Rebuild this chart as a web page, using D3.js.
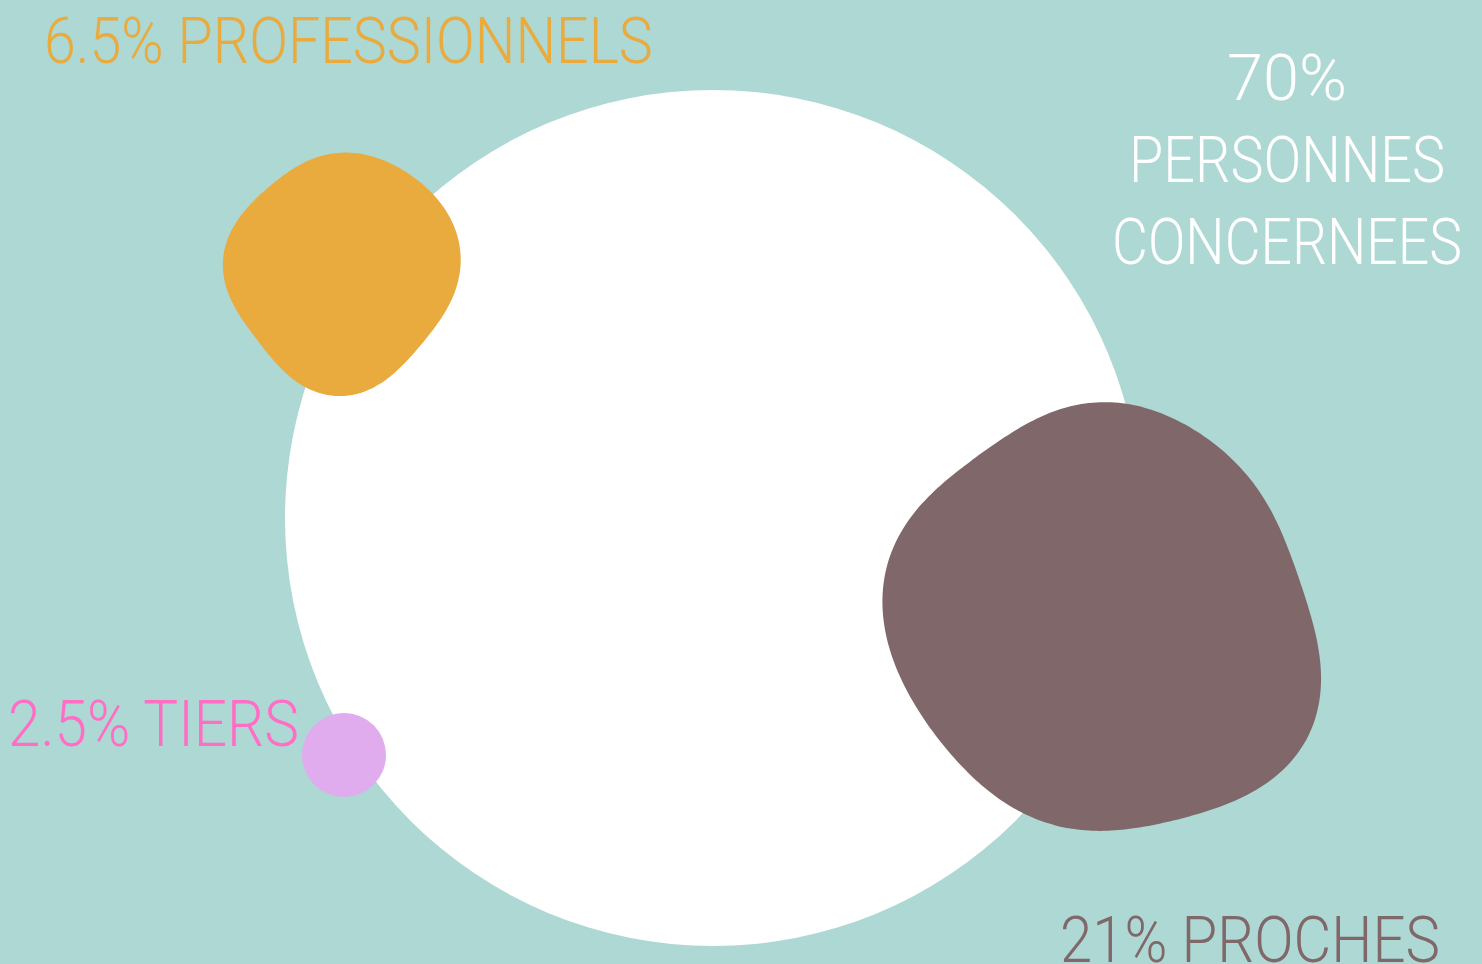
<!DOCTYPE html>
<html>
<head>
<meta charset="utf-8">
<script src="https://cdn.jsdelivr.net/npm/d3@7"></script>
<style>
  html, body { margin: 0; padding: 0; background: #aed8d3; overflow: hidden; }
  svg { display: block; }
  text { font-family: Roboto, "Liberation Sans Narrow", sans-serif; font-weight: 300; }
</style>
</head>
<body>
<svg id="chart" width="1482" height="964"></svg>
<script>
// ---- data ----
const categories = ["PERSONNES CONCERNEES", "PROCHES", "PROFESSIONNELS", "TIERS"];
const values = [70, 21, 6.5, 2.5];
const valueLabels = ["70%", "21%", "6.5%", "2.5%"];
const colors = ["#ffffff", "#80686a", "#e9aa3e", "#e0acee"];
const labelColors = ["#ffffff", "#80686a", "#e9aa3e", "#ff6ec4"];

// ---- layout (not data) ----
const W = 1482, H = 964;
const centers = [[713, 518], [1100, 616], [342, 275], [344, 755]];
// normalized contour profiles (unit offsets) giving each blob its organic form
const shapes = [
  null, // perfect circle
  [[0.077,-0.973],[-0.195,-0.936],[-0.545,-0.723],[-0.909,-0.377],[-0.995,-0.027],[-0.818,0.427],
   [-0.545,0.759],[-0.136,0.973],[0.241,0.941],[0.623,0.836],[0.955,0.564],[1.0,0.259],
   [0.941,-0.059],[0.85,-0.30],[0.514,-0.786],[0.318,-0.905]],
  [[0.07,-1.02],[-0.21,-0.98],[-0.68,-0.65],[-0.93,-0.375],[-1.0,-0.10],[-0.91,0.21],[-0.60,0.65],
   [-0.325,0.93],[-0.075,1.02],[0.26,0.93],[0.675,0.54],[0.94,0.125],[1.0,-0.15],[0.84,-0.57],[0.51,-0.875]],
  null
];

// smooth an outline: polar resample + low-pass Fourier
function smoothOutline(pts, K, N) {
  const pol = pts.map(([x, y]) => ({ a: Math.atan2(y, x), r: Math.hypot(x, y) }))
                 .sort((p, q) => p.a - q.a);
  const M = 128, rs = [];
  for (let m = 0; m < M; m++) {
    const a = -Math.PI + 2 * Math.PI * m / M;
    let j = pol.findIndex(p => p.a > a);
    let p0, p1;
    if (j <= 0) { p0 = pol[pol.length - 1]; p1 = pol[0]; }
    else { p0 = pol[j - 1]; p1 = pol[j]; }
    let a0 = p0.a, a1 = p1.a, aa = a;
    if (a1 < a0) a1 += 2 * Math.PI;
    if (aa < a0) aa += 2 * Math.PI;
    const t = (aa - a0) / (a1 - a0);
    rs.push(p0.r + (p1.r - p0.r) * t);
  }
  const coef = [];
  for (let k = 0; k <= K; k++) {
    let c = 0, s = 0;
    rs.forEach((r, m) => {
      const a = -Math.PI + 2 * Math.PI * m / M;
      c += r * Math.cos(k * a); s += r * Math.sin(k * a);
    });
    coef.push([c / M, s / M]);
  }
  const out = [];
  for (let n = 0; n < N; n++) {
    const a = -Math.PI + 2 * Math.PI * n / N;
    let r = coef[0][0];
    for (let k = 1; k <= K; k++) r += 2 * (coef[k][0] * Math.cos(k * a) + coef[k][1] * Math.sin(k * a));
    out.push([r * Math.cos(a), r * Math.sin(a)]);
  }
  return out;
}

const svg = d3.select("#chart");
svg.append("rect").attr("width", W).attr("height", H).attr("fill", "#aed8d3");

// size scale for bubbles
const rScale = d3.scaleLinear().domain([2.5, 6.5, 21, 70]).range([42, 120, 220, 428]);

const line = d3.line().curve(d3.curveCatmullRomClosed);

values.forEach((v, i) => {
  const r = rScale(v);
  const [cx, cy] = centers[i];
  if (!shapes[i]) {
    svg.append("circle").attr("cx", cx).attr("cy", cy).attr("r", r).attr("fill", colors[i]);
  } else {
    const pts = smoothOutline(shapes[i], 6, 180).map(([dx, dy]) => [cx + dx * r, cy + dy * r]);
    svg.append("path").attr("d", line(pts)).attr("fill", colors[i]);
  }
});

// ---- labels ----
const fs = 64;
function label(lines, x, y0, anchor, color, widths) {
  lines.forEach((t, k) => {
    const txt = svg.append("text")
      .attr("x", 0).attr("y", 0)
      .attr("text-anchor", anchor)
      .attr("fill", color)
      .attr("font-size", fs)
      .text(t);
    const nat = txt.node().getComputedTextLength() || widths[k];
    const sx = widths[k] / nat;
    txt.attr("transform", `translate(${x},${y0 + k * 82}) scale(${sx},1)`);
  });
}
label([valueLabels[2] + " " + categories[2]], 44, 63, "start", labelColors[2], [609]);
label([valueLabels[0], "PERSONNES", "CONCERNEES"], 1287, 100, "middle", labelColors[0], [120, 316, 350]);
label([valueLabels[3] + " " + categories[3]], 8, 746, "start", labelColors[3], [291]);
label([valueLabels[1] + " " + categories[1]], 1060, 962, "start", labelColors[1], [380]);
</script>
</body>
</html>
